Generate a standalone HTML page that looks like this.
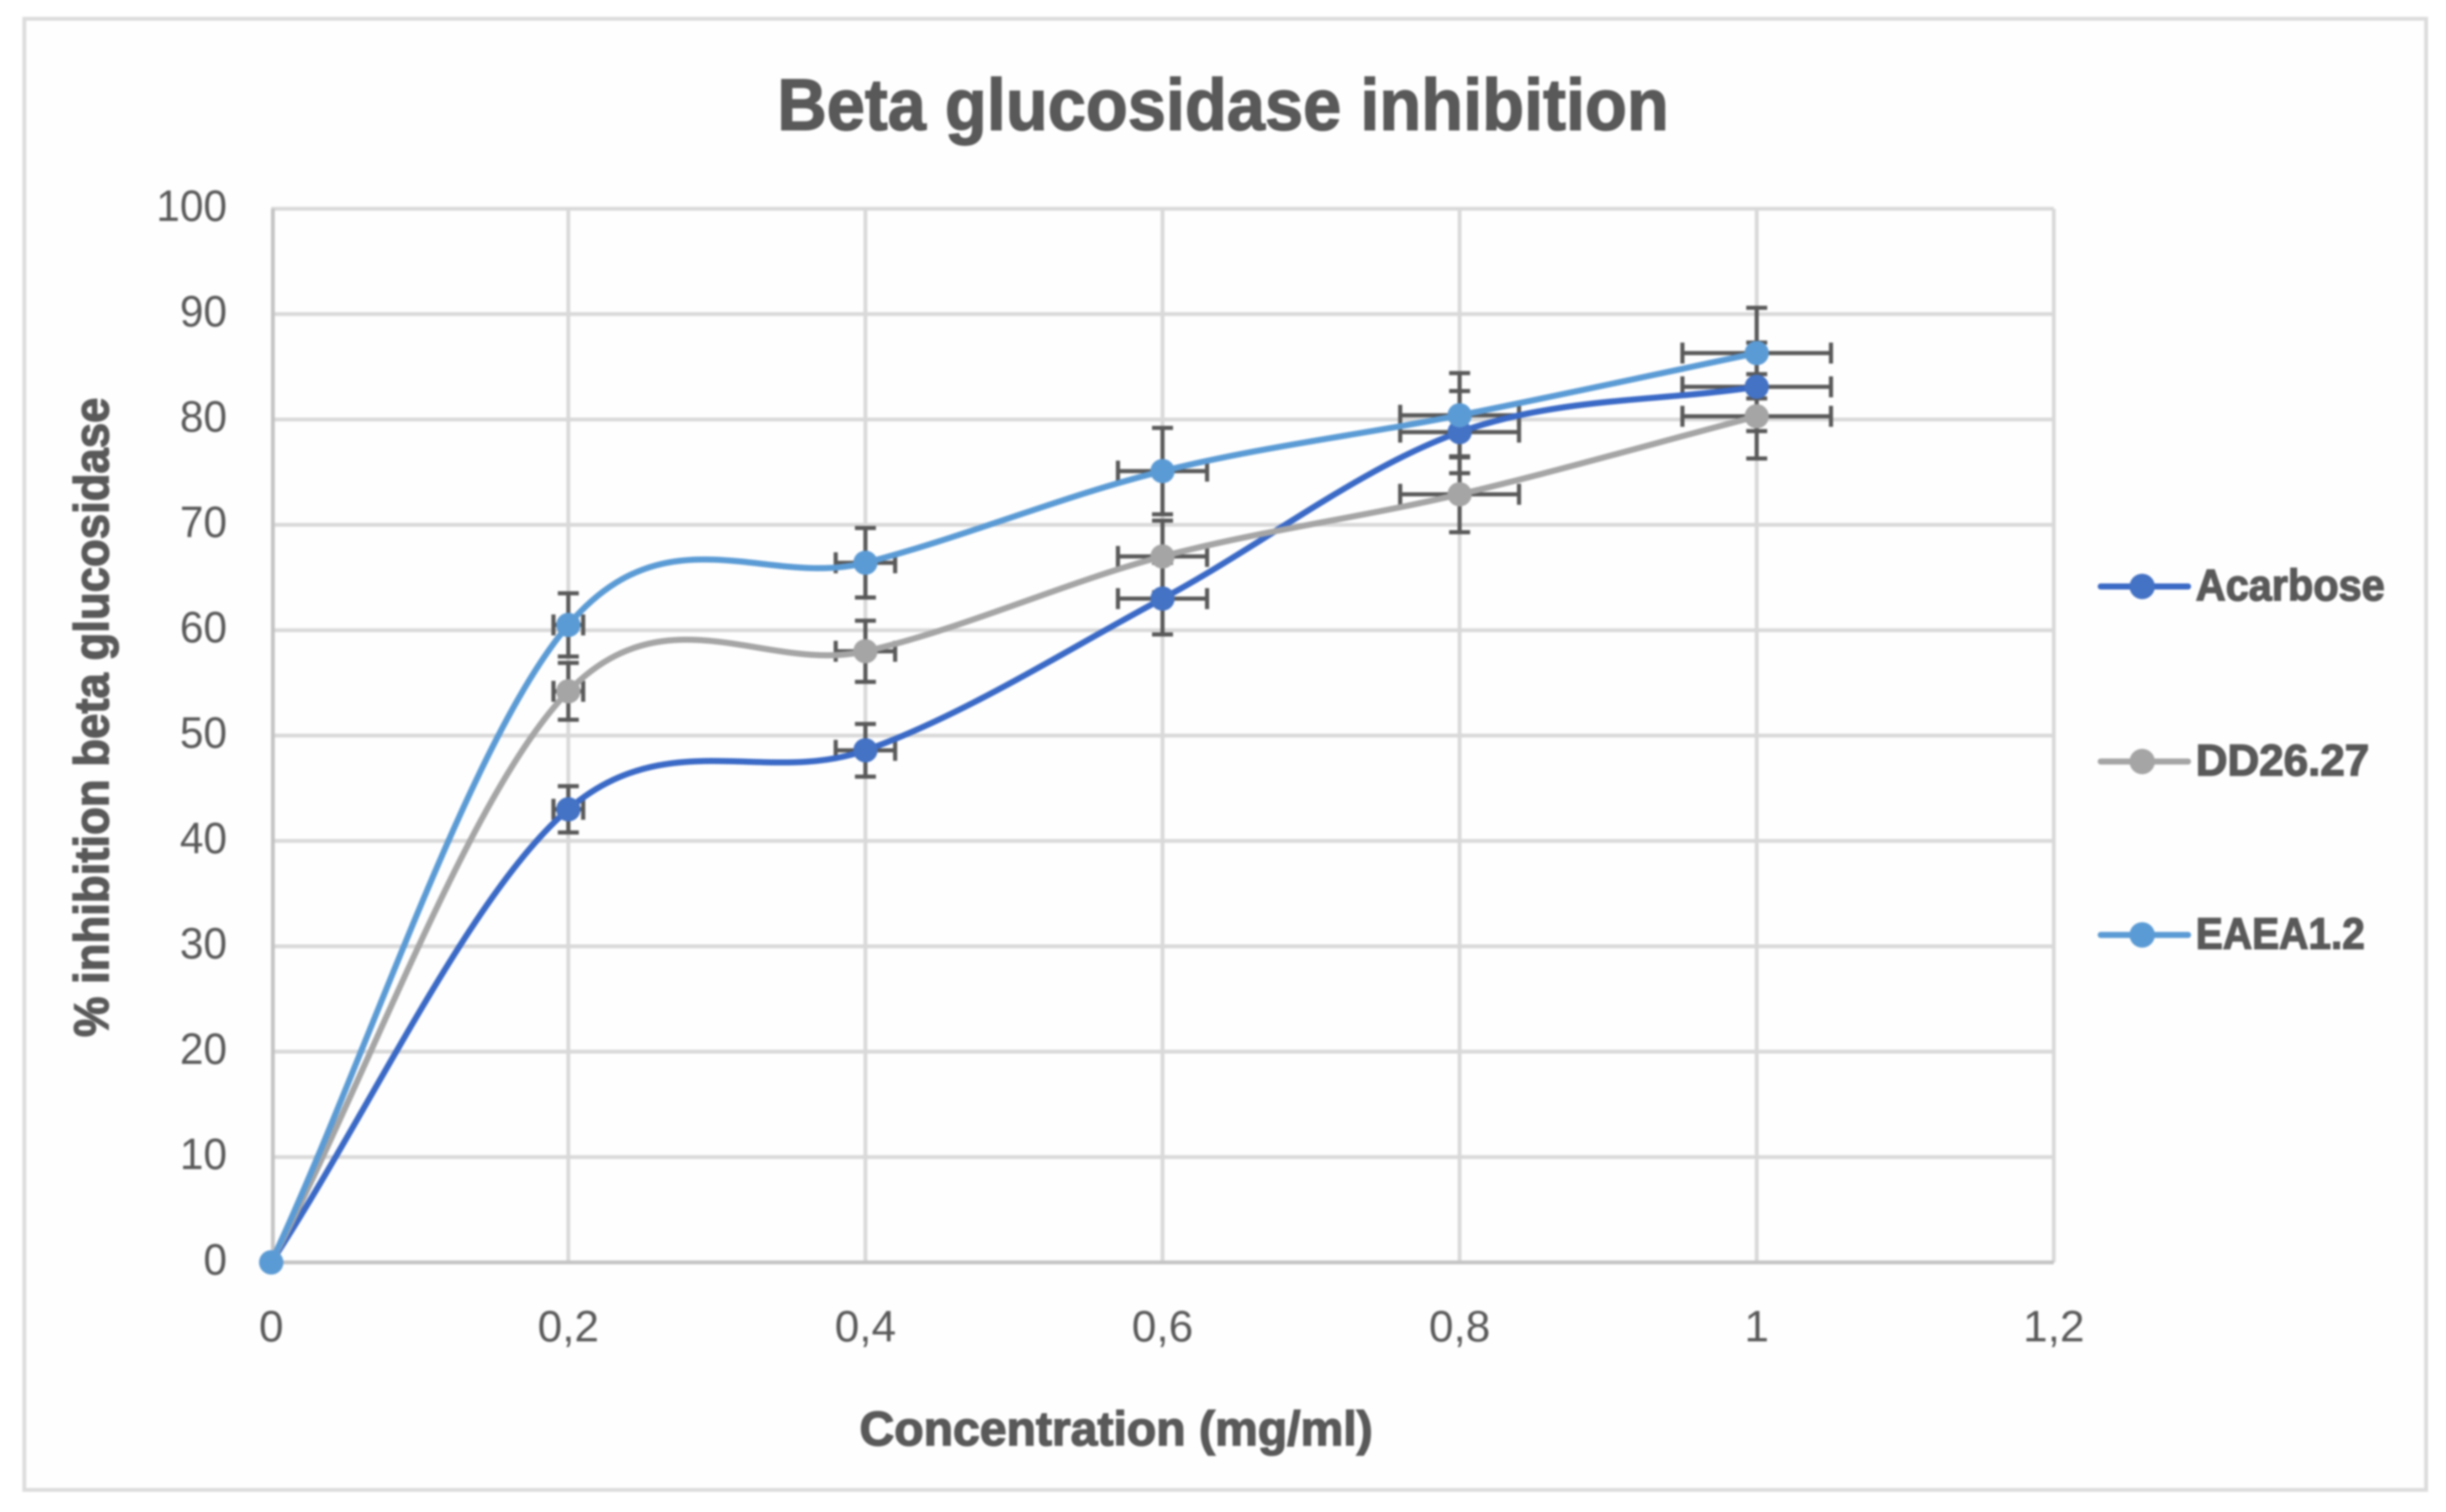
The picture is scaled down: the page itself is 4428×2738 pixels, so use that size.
<!DOCTYPE html>
<html lang="en">
<head>
<meta charset="utf-8">
<title>Beta glucosidase inhibition</title>
<style>
html,body{margin:0;padding:0;background:#fff;width:4428px;height:2738px;overflow:hidden}
svg{display:block;filter:blur(1.8px)}
text{font-family:"Liberation Sans",sans-serif;fill:#595959}
.heavy{stroke:#595959;stroke-width:2.5px}
</style>
</head>
<body>
<svg id="chart" xmlns="http://www.w3.org/2000/svg" width="4428" height="2738" viewBox="0 0 4428 2738">
  <rect x="44" y="34" width="4348" height="2664" fill="#fefefe" stroke="#dcdcdc" stroke-width="7"/>
  <g id="grid"></g>
  <g id="axes"></g>
  <g id="series"></g>
  <text id="chart-title" class="heavy" x="1407" y="235" font-size="132" font-weight="700" textLength="1614" lengthAdjust="spacingAndGlyphs">Beta glucosidase inhibition</text>
  <text class="heavy" x="1556" y="2617" font-size="87" font-weight="700" textLength="929" lengthAdjust="spacingAndGlyphs">Concentration (mg/ml)</text>
  <text class="heavy" transform="translate(196 1878) rotate(-90)" x="0" y="0" font-size="88" font-weight="700" textLength="1158" lengthAdjust="spacingAndGlyphs">% inhibition beta glucosidase</text>
  <g id="legend"></g>
</svg>
<script>
const xValues = [0, 0.2, 0.4, 0.6, 0.8, 1];
const acarboseValues = [0, 43, 48.6, 63, 78.8, 83.1];
const dd2627Values = [0, 54.2, 58, 67, 72.9, 80.3];
const eaea12Values = [0, 60.5, 66.4, 75.1, 80.4, 86.3];
const acarboseErrors = [0, 2.2, 2.5, 3.4, 3.9, 4.2];
const dd2627Errors = [0, 2.7, 2.9, 3.4, 3.6, 4];
const eaea12Errors = [0, 3, 3.3, 4.1, 4, 4.3];
const xErrors = [0, 0.01, 0.02, 0.03, 0.04, 0.05];
const yTickValues = [0, 10, 20, 30, 40, 50, 60, 70, 80, 90, 100];
const xTickValues = [0, 0.2, 0.4, 0.6, 0.8, 1, 1.2];
const xTickLabels = ["0", "0,2", "0,4", "0,6", "0,8", "1", "1,2"];
const seriesNames = ["Acarbose", "DD26.27", "EAEA1.2"];

const NS = "http://www.w3.org/2000/svg";
const PLOT_LEFT = 491, PLOT_RIGHT = 3718, PLOT_BOTTOM = 2286, PLOT_TOP = 378;
function xScale(v) { return PLOT_LEFT + (v / 1.2) * (PLOT_RIGHT - PLOT_LEFT); }
function yScale(v) { return PLOT_BOTTOM - (v / 100) * (PLOT_BOTTOM - PLOT_TOP); }

function make(tag, attrs, parent) {
  const el = document.createElementNS(NS, tag);
  for (const k in attrs) el.setAttribute(k, attrs[k]);
  parent.appendChild(el);
  return el;
}
function squeeze(el, f) {
  el.setAttribute("textLength", (el.getComputedTextLength() * f).toFixed(1));
  el.setAttribute("lengthAdjust", "spacingAndGlyphs");
}

const gridG = document.getElementById("grid");
const axesG = document.getElementById("axes");
const seriesG = document.getElementById("series");
const legendG = document.getElementById("legend");

yTickValues.forEach(function (v) {
  if (v !== 0) {
    const gl = make("line", { x1: xScale(0), x2: xScale(1.2), y1: yScale(v), y2: yScale(v), stroke: "#d9d9d9", "stroke-width": 7 }, gridG);
    
    
  }
  const t = make("text", { x: 411, y: yScale(v) + 22, "font-size": 80, "text-anchor": "end" }, axesG);
  t.textContent = String(v);
  
  
  squeeze(t, 0.96);
});
xTickValues.forEach(function (v, i) {
  if (v !== 0) {
    const gl = make("line", { x1: xScale(v), x2: xScale(v), y1: yScale(100), y2: yScale(0), stroke: "#d9d9d9", "stroke-width": 7 }, gridG);
    
    
  }
  const t = make("text", { x: xScale(v), y: 2429, "font-size": 80, "text-anchor": "middle" }, axesG);
  t.textContent = xTickLabels[i];
  
  
  squeeze(t, 1);
});
const yAxis = make("line", { x1: xScale(0) + 3, x2: xScale(0) + 3, y1: yScale(100), y2: yScale(0), stroke: "#c4c4c4", "stroke-width": 7 }, axesG);


const xAxis = make("line", { x1: xScale(0), x2: xScale(1.2), y1: yScale(0), y2: yScale(0), stroke: "#c4c4c4", "stroke-width": 7 }, axesG);



function smoothPath(xs, ys) {
  const px = xs.map(xScale), py = ys.map(yScale);
  const n = px.length;
  let d = "M" + px[0] + " " + py[0];
  for (let i = 0; i < n - 1; i++) {
    let c1x, c1y, c2x, c2y;
    if (i === 0) {
      c1x = px[0] + (px[1] - px[0]) / 3;
      c1y = py[0] + (py[1] - py[0]) / 3;
    } else {
      c1x = px[i] + (px[i + 1] - px[i - 1]) / 6;
      c1y = py[i] + (py[i + 1] - py[i - 1]) / 6;
    }
    if (i === n - 2) {
      c2x = px[i + 1] - (px[i + 1] - px[i]) / 3;
      c2y = py[i + 1] - (py[i + 1] - py[i]) / 3;
    } else {
      c2x = px[i + 1] - (px[i + 2] - px[i]) / 6;
      c2y = py[i + 1] - (py[i + 2] - py[i]) / 6;
    }
    d += " C" + c1x.toFixed(1) + " " + c1y.toFixed(1) + " " + c2x.toFixed(1) + " " + c2y.toFixed(1) + " " + px[i + 1].toFixed(1) + " " + py[i + 1].toFixed(1);
  }
  return d;
}

function errorBars(g, values, errors) {
  const ERR = "#595959", CAP = 19;
  xValues.forEach(function (xv, i) {
    if (errors[i] === 0 && xErrors[i] === 0) return;
    const cx = xScale(xv), cy = yScale(values[i]);
    const top = yScale(values[i] + errors[i]), bot = yScale(values[i] - errors[i]);
    const lft = xScale(xv - xErrors[i]), rgt = xScale(xv + xErrors[i]);
    const segs = [
      [cx, top, cx, bot], [cx - CAP, top, cx + CAP, top], [cx - CAP, bot, cx + CAP, bot],
      [lft, cy, rgt, cy], [lft, cy - CAP, lft, cy + CAP], [rgt, cy - CAP, rgt, cy + CAP]
    ];
    segs.forEach(function (s) {
      const l = make("line", { x1: s[0], y1: s[1], x2: s[2], y2: s[3], stroke: ERR, "stroke-width": 7.5 }, g);
      
      
    });
  });
}

const lineColors = ["#3a69c6", "#a5a5a5", "#5b9bd5"];
const markerColors = ["#4472c4", "#a5a5a5", "#5b9bd5"];
const valueSets = [acarboseValues, dd2627Values, eaea12Values];
const errorSets = [acarboseErrors, dd2627Errors, eaea12Errors];

const errG = make("g", {}, seriesG);


valueSets.forEach(function (vals, s) { errorBars(errG, vals, errorSets[s]); });

valueSets.forEach(function (vals, s) {
  const g = make("g", {}, seriesG);
  
  
  const p = make("path", { d: smoothPath(xValues, vals), fill: "none", stroke: lineColors[s], "stroke-width": 11, "stroke-linecap": "round" }, g);
  
  
  xValues.forEach(function (xv, i) {
    const c = make("circle", { cx: xScale(xv), cy: yScale(vals[i]), r: 22, fill: markerColors[s] }, g);
    
    
  });
});

const legendRowY = [1062, 1379, 1693];
const legendTextW = [342, 314, 306];
seriesNames.forEach(function (name, i) {
  const g = make("g", {}, legendG);
  
  
  const y = legendRowY[i];
  const l = make("line", { x1: 3803, x2: 3961, y1: y, y2: y, stroke: lineColors[i], "stroke-width": 11, "stroke-linecap": "round" }, g);
  
  
  const m = make("circle", { cx: 3878, cy: y, r: 23, fill: markerColors[i] }, g);
  
  
  const t = make("text", { x: 3975, y: y + 25, "font-size": 80, "font-weight": 700, textLength: legendTextW[i], lengthAdjust: "spacingAndGlyphs" }, g);
  t.textContent = name;
  t.setAttribute('class', 'heavy');
  
  
});
</script>
</body>
</html>
